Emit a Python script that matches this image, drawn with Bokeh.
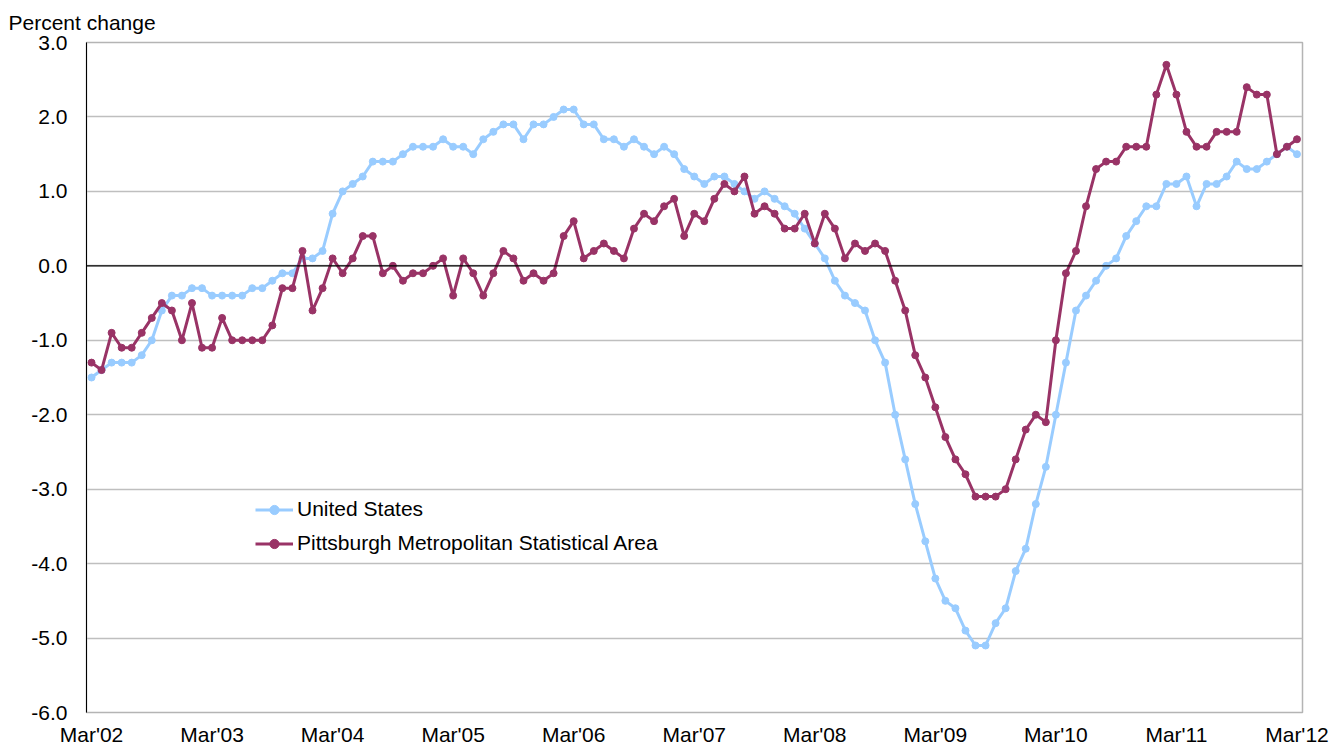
from bokeh.plotting import figure
from bokeh.models import Range1d, FixedTicker, Span, Legend, LegendItem, Title
from bokeh.embed import file_html
from bokeh.resources import INLINE

# ---- data (monthly, Mar'02 .. Mar'12) ----
months = list(range(121))
us = [-1.5, -1.4, -1.3, -1.3, -1.3, -1.2, -1.0, -0.6, -0.4, -0.4, -0.3, -0.3,
      -0.4, -0.4, -0.4, -0.4, -0.3, -0.3, -0.2, -0.1, -0.1, 0.1, 0.1, 0.2,
      0.7, 1.0, 1.1, 1.2, 1.4, 1.4, 1.4, 1.5, 1.6, 1.6, 1.6, 1.7,
      1.6, 1.6, 1.5, 1.7, 1.8, 1.9, 1.9, 1.7, 1.9, 1.9, 2.0, 2.1,
      2.1, 1.9, 1.9, 1.7, 1.7, 1.6, 1.7, 1.6, 1.5, 1.6, 1.5, 1.3,
      1.2, 1.1, 1.2, 1.2, 1.1, 1.0, 0.9, 1.0, 0.9, 0.8, 0.7, 0.5,
      0.3, 0.1, -0.2, -0.4, -0.5, -0.6, -1.0, -1.3, -2.0, -2.6, -3.2, -3.7,
      -4.2, -4.5, -4.6, -4.9, -5.1, -5.1, -4.8, -4.6, -4.1, -3.8, -3.2, -2.7,
      -2.0, -1.3, -0.6, -0.4, -0.2, 0.0, 0.1, 0.4, 0.6, 0.8, 0.8, 1.1,
      1.1, 1.2, 0.8, 1.1, 1.1, 1.2, 1.4, 1.3, 1.3, 1.4, 1.5, 1.6,
      1.5]
pittsburgh = [-1.3, -1.4, -0.9, -1.1, -1.1, -0.9, -0.7, -0.5, -0.6, -1.0, -0.5, -1.1,
              -1.1, -0.7, -1.0, -1.0, -1.0, -1.0, -0.8, -0.3, -0.3, 0.2, -0.6, -0.3,
              0.1, -0.1, 0.1, 0.4, 0.4, -0.1, 0.0, -0.2, -0.1, -0.1, 0.0, 0.1,
              -0.4, 0.1, -0.1, -0.4, -0.1, 0.2, 0.1, -0.2, -0.1, -0.2, -0.1, 0.4,
              0.6, 0.1, 0.2, 0.3, 0.2, 0.1, 0.5, 0.7, 0.6, 0.8, 0.9, 0.4,
              0.7, 0.6, 0.9, 1.1, 1.0, 1.2, 0.7, 0.8, 0.7, 0.5, 0.5, 0.7,
              0.3, 0.7, 0.5, 0.1, 0.3, 0.2, 0.3, 0.2, -0.2, -0.6, -1.2, -1.5,
              -1.9, -2.3, -2.6, -2.8, -3.1, -3.1, -3.1, -3.0, -2.6, -2.2, -2.0, -2.1,
              -1.0, -0.1, 0.2, 0.8, 1.3, 1.4, 1.4, 1.6, 1.6, 1.6, 2.3, 2.7,
              2.3, 1.8, 1.6, 1.6, 1.8, 1.8, 1.8, 2.4, 2.3, 2.3, 1.5, 1.6,
              1.7]
x_ticks = [0, 12, 24, 36, 48, 60, 72, 84, 96, 108, 120]
x_tick_labels = ["Mar'02", "Mar'03", "Mar'04", "Mar'05", "Mar'06", "Mar'07",
                 "Mar'08", "Mar'09", "Mar'10", "Mar'11", "Mar'12"]
y_ticks = [3, 2, 1, 0, -1, -2, -3, -4, -5, -6]
y_tick_labels = ["3.0", "2.0", "1.0", "0.0", "-1.0", "-2.0", "-3.0", "-4.0", "-5.0", "-6.0"]
series_names = ["United States", "Pittsburgh Metropolitan Statistical Area"]
y_title = "Percent change"

US_COLOR = "#99CCFF"
PIT_COLOR = "#993366"
FONT = "Liberation Sans"
FS = "21px"

p = figure(width=1339, height=748, output_backend="svg", toolbar_location=None,
           x_range=Range1d(-0.5, 120.55), y_range=Range1d(-6, 3),
           min_border_left=86, min_border_right=37, min_border_top=42, min_border_bottom=35)
p.background_fill_color = "white"
p.border_fill_color = "white"
p.outline_line_color = "#B4B4B4"
p.outline_line_width = 1.5

# axes
p.xaxis.ticker = FixedTicker(ticks=x_ticks)
p.xaxis.major_label_overrides = dict(zip(x_ticks, x_tick_labels))
p.xaxis.axis_line_color = None
p.xaxis.major_tick_line_color = None
p.xaxis.minor_tick_line_color = None
p.xaxis.major_label_standoff = 4
p.xaxis.major_label_text_font = FONT
p.xaxis.major_label_text_font_size = FS
p.xaxis.major_label_text_color = "black"

p.yaxis.ticker = FixedTicker(ticks=y_ticks)
p.yaxis.major_label_overrides = dict(zip(y_ticks, y_tick_labels))
p.yaxis.axis_line_color = "black"
p.yaxis.axis_line_width = 1
p.yaxis.major_tick_line_color = None
p.yaxis.minor_tick_line_color = None
p.yaxis.major_label_standoff = 13
p.yaxis.major_label_text_font = FONT
p.yaxis.major_label_text_font_size = FS
p.yaxis.major_label_text_color = "black"

p.xgrid.grid_line_color = None
p.ygrid.grid_line_color = "#BFBFBF"
p.ygrid.grid_line_width = 1.3

p.add_layout(Span(location=0, dimension="width", line_color="black", line_width=1.2))

p.add_layout(Title(text=y_title, align="left", offset=-78,
                   text_font=FONT, text_font_size=FS, text_font_style="normal",
                   text_color="black", standoff=17), "above")

l1 = p.line(months, us, line_color=US_COLOR, line_width=3)
s1 = p.scatter(months, us, size=7, fill_color=US_COLOR, line_color=US_COLOR)
l2 = p.line(months, pittsburgh, line_color=PIT_COLOR, line_width=3)
s2 = p.scatter(months, pittsburgh, size=7, fill_color=PIT_COLOR, line_color=PIT_COLOR)

legend = Legend(items=[LegendItem(label=series_names[0], renderers=[l1, s1]),
                       LegendItem(label=series_names[1], renderers=[l2, s2])],
                location=(169, 157), orientation="vertical",
                border_line_color=None, background_fill_alpha=0,
                padding=0, margin=0, spacing=10,
                glyph_width=38, glyph_height=23, label_height=23,
                label_standoff=4, label_text_font=FONT, label_text_font_size=FS,
                label_text_color="black")
p.add_layout(legend, "center")

open("out.html", "w").write(file_html(p, INLINE))
